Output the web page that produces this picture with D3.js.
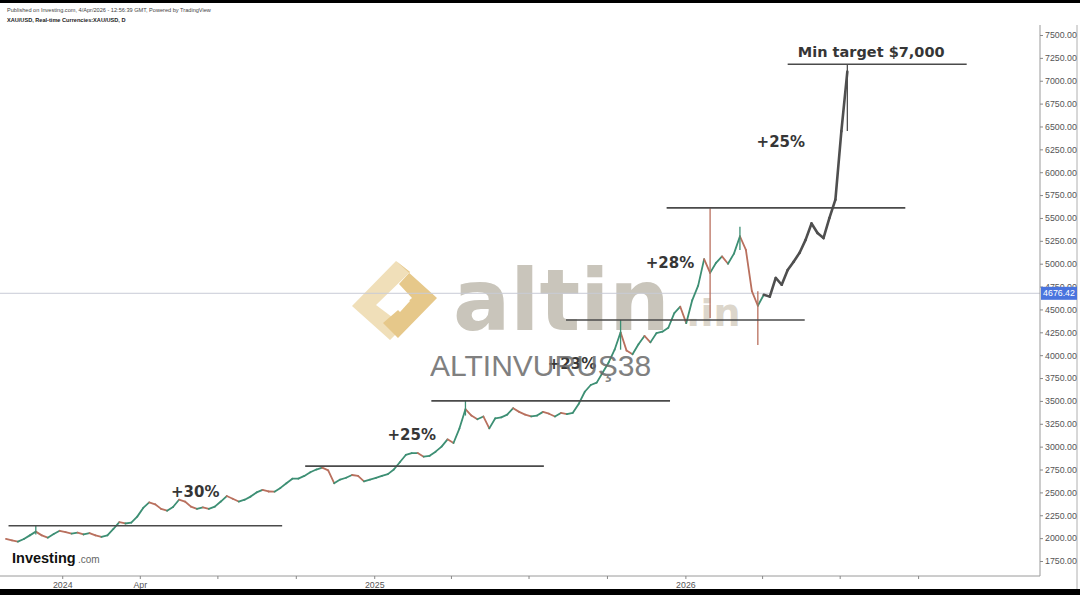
<!DOCTYPE html>
<meta charset="utf-8">
<style>
    body {
        margin: 0;
        background-color: #fff;
    }

    svg {
        display: block;
    }

    text {
        font-family: "Liberation Sans", Arial, sans-serif;
    }

    .axis text {
        fill: #555;
        font-size: 8.8px;
    }

    .axis line {
        stroke: #888;
    }

    .note {
        font-family: "DejaVu Sans", Verdana, sans-serif;
        font-weight: bold;
        fill: #363636;
        font-size: 15px;
        text-anchor: middle;
    }
</style>
<svg width="1080" height="595"></svg>
<script src="https://d3js.org/d3.v7.min.js"></script>
<script>
    // weekly closes, first week ending 27 Oct 2023
    var weekStart = "2023-10-27";
    var closes = [
        1991, 1975, 1962, 1990, 2030, 2071, 2030, 2005, 2045, 2080,
        2065, 2050, 2060, 2040, 2055, 2030, 2013, 2030, 2100, 2175,
        2160, 2170, 2235, 2330, 2390, 2370, 2320, 2300, 2340, 2420,
        2400, 2345, 2320, 2335, 2320, 2345, 2400, 2460, 2430, 2400,
        2420, 2454, 2500, 2527, 2510, 2508, 2549, 2600, 2650, 2650,
        2680, 2720, 2750, 2770, 2740, 2600, 2640, 2660, 2690, 2680,
        2620, 2640, 2658, 2680, 2700, 2750, 2830, 2909, 2930, 2930,
        2890, 2900, 2945, 3000, 3080, 3040, 3200, 3410, 3340, 3300,
        3330, 3200, 3310, 3320, 3350, 3420, 3380, 3350, 3330, 3340,
        3380, 3360, 3330, 3368, 3355, 3370, 3470, 3600, 3674, 3700,
        3810, 3920, 4060, 4250, 4050, 4010, 4120, 4210, 4140, 4240,
        4257, 4300, 4460, 4530, 4350, 4600, 4760, 5050, 4900, 5010,
        5080, 5000, 5110, 5300, 5150, 4700, 4540, 4660
    ];
    // hand drawn projection after the last close
    var projection = [
        4640, 4844, 4770, 4931, 5022, 5120, 5260, 5440, 5336, 5280,
        5500, 5700, 6450, 7100
    ];

    // long wicks (week index, low, high)
    var spikeWeek = [5, 77, 103, 118, 123, 126, 141];
    var spikeLow = [2040, 3340, 4060, 4407, 5150, 4112, 6450];
    var spikeHigh = [2135, 3500, 4385, 5606, 5404, 4700, 7180];

    var lastPrice = 4676.42;

    // horizontal levels drawn on the chart
    var levelValue = [2135, 2787, 3500, 4385, 5610, 7180];
    var levelFrom = ["2023-10-30", "2024-10-12", "2025-03-09", "2025-08-14", "2025-12-10", "2026-05-01"];
    var levelTo = ["2024-09-15", "2025-07-19", "2025-12-14", "2026-05-21", "2026-09-16", "2026-11-27"];

    var noteText = ["+30%", "+25%", "+23%", "+28%", "+25%", "Min target $7,000"];
    var noteDate = ["2024-06-05", "2025-02-14", "2025-08-21", "2025-12-14", "2026-04-23", "2026-08-07"];
    var noteValue = [2453, 3073, 3850, 4953, 6276, 7260];

    var yTicks = [1750, 2000, 2250, 2500, 2750, 3000, 3250, 3500, 3750, 4000, 4250, 4500,
        4750, 5000, 5250, 5500, 5750, 6000, 6250, 6500, 6750, 7000, 7250, 7500];
    var xTickDates = ["2024-01-01", "2024-04-01", "2024-07-01", "2024-10-01", "2025-01-01", "2025-04-01",
        "2025-07-01", "2025-10-01", "2026-01-01", "2026-04-01", "2026-07-01", "2026-10-01"];
    var xTickLabels = ["2024", "Apr", "", "", "2025", "", "", "", "2026", "", "", ""];

    var svg = d3.select("svg"),
        width = +svg.attr("width"),
        height = +svg.attr("height");

    var parse = d3.utcParse("%Y-%m-%d");
    var plotRight = 1040,
        plotTop = 25,
        plotBottom = 576;

    var x = d3.scaleUtc()
        .domain([parse("2023-10-20"), parse("2027-02-21")])
        .range([0, plotRight]);

    var y = d3.scaleLinear()
        .domain([1750, 7500])
        .range([561, 35]);

    var start = parse(weekStart);
    var points = closes.concat(projection).map(function(v, i) {
        return {
            date: d3.utcDay.offset(start, 7 * i),
            value: v,
            projected: i >= closes.length
        };
    });

    // watermark (under the price)
    var wm = svg.append("g").attr("class", "watermark");
    wm.append("polygon")
        .attr("points", "396,261 352,306 390,340 404,326 376,305 410,272")
        .attr("fill", "#f0dfb9");
    wm.append("polygon")
        .attr("points", "396,261 437,298 398,338 383,323 412,298 399,284 410,272")
        .attr("fill", "#e6c88a");
    wm.append("polygon")
        .attr("points", "399,290 410,301 400,312 389,301")
        .attr("fill", "#fff");
    wm.append("text")
        .attr("x", 453)
        .attr("y", 330)
        .style("font-family", "DejaVu Sans, sans-serif")
        .style("font-weight", "bold")
        .style("font-size", "85px")
        .attr("fill", "#c9c5bb")
        .text("altin");
    wm.append("text")
        .attr("x", 686)
        .attr("y", 326)
        .style("font-family", "DejaVu Sans, sans-serif")
        .style("font-weight", "bold")
        .style("font-size", "38px")
        .attr("fill", "#dcd6cb")
        .text(".in");

    // last price line
    svg.append("line")
        .attr("x1", 0)
        .attr("x2", plotRight)
        .attr("y1", y(lastPrice))
        .attr("y2", y(lastPrice))
        .attr("stroke", "#c9cbd6")
        .attr("stroke-width", 1);

    // frame
    svg.append("line")
        .attr("x1", 0).attr("x2", plotRight)
        .attr("y1", plotBottom).attr("y2", plotBottom)
        .attr("stroke", "#9a9a9a");
    svg.append("line")
        .attr("x1", plotRight).attr("x2", plotRight)
        .attr("y1", plotTop).attr("y2", plotBottom)
        .attr("stroke", "#9a9a9a");
    svg.append("line")
        .attr("x1", 1077).attr("x2", 1077)
        .attr("y1", plotTop).attr("y2", 590)
        .attr("stroke", "#b0b0b0");

    function segColor(a, b) {
        if (b.projected) return "#4f4f4f";
        return b.value >= a.value ? "#3d8f74" : "#b9705e";
    }

    var segs = d3.pairs(points);
    svg.append("g")
        .attr("class", "price")
        .selectAll("line")
        .data(segs)
        .enter().append("line")
        .attr("x1", function(d) { return x(d[0].date); })
        .attr("y1", function(d) { return y(d[0].value); })
        .attr("x2", function(d) { return x(d[1].date); })
        .attr("y2", function(d) { return y(d[1].value); })
        .attr("stroke", function(d) { return segColor(d[0], d[1]); })
        .attr("stroke-width", function(d) { return d[1].projected ? 2.6 : 1.8; })
        .attr("stroke-linecap", "round");

    svg.append("g")
        .attr("class", "wicks")
        .selectAll("line")
        .data(spikeWeek)
        .enter().append("line")
        .attr("x1", function(k) { return x(points[k].date); })
        .attr("x2", function(k) { return x(points[k].date); })
        .attr("y1", function(k, i) { return y(spikeLow[i]); })
        .attr("y2", function(k, i) { return y(spikeHigh[i]); })
        .attr("stroke", function(k) {
            if (points[k].projected) return "#4f4f4f";
            return segColor(points[k - 1], points[k]);
        })
        .attr("stroke-width", 1.3);

    // drawn levels
    svg.append("g")
        .attr("class", "levels")
        .selectAll("line")
        .data(levelValue)
        .enter().append("line")
        .attr("x1", function(d, i) { return x(parse(levelFrom[i])); })
        .attr("x2", function(d, i) { return x(parse(levelTo[i])); })
        .attr("y1", function(d) { return y(d); })
        .attr("y2", function(d) { return y(d); })
        .attr("stroke", "#4a4a4a")
        .attr("stroke-width", 1.6);

    svg.append("g")
        .selectAll("text")
        .data(noteText)
        .enter().append("text")
        .attr("class", "note")
        .attr("x", function(d, i) { return x(parse(noteDate[i])); })
        .attr("y", function(d, i) { return y(noteValue[i]); })
        .style("font-size", function(d) { return d.length > 6 ? "14.5px" : "15px"; })
        .text(function(d) { return d; });

    // second watermark line, above the chart
    svg.append("text")
        .attr("x", 430)
        .attr("y", 376)
        .style("font-size", "30px")
        .attr("fill", "#6a6a6a")
        .attr("opacity", 0.85)
        .text("ALTINVURUŞ38");

    // axes
    var yAxis = d3.axisRight(y)
        .tickValues(yTicks)
        .tickSize(3)
        .tickPadding(2)
        .tickFormat(d3.format(".2f"));
    svg.append("g")
        .attr("class", "axis")
        .attr("transform", "translate(" + plotRight + ",0)")
        .call(yAxis)
        .call(function(g) { g.select(".domain").remove(); });

    var xAxis = d3.axisBottom(x)
        .tickValues(xTickDates.map(parse))
        .tickSize(3)
        .tickPadding(3)
        .tickFormat(function(d, i) { return xTickLabels[i]; });
    svg.append("g")
        .attr("class", "axis")
        .attr("transform", "translate(0," + plotBottom + ")")
        .call(xAxis)
        .call(function(g) { g.select(".domain").remove(); });

    // last price tag
    svg.append("rect")
        .attr("x", plotRight + 1)
        .attr("y", y(lastPrice) - 6.5)
        .attr("width", 36)
        .attr("height", 13)
        .attr("fill", "#4a74de");
    svg.append("text")
        .attr("x", plotRight + 19)
        .attr("y", y(lastPrice) + 3)
        .attr("text-anchor", "middle")
        .attr("fill", "#fff")
        .style("font-size", "8.8px")
        .text(d3.format(".2f")(lastPrice));

    // header and branding
    svg.append("text")
        .attr("x", 7).attr("y", 12)
        .style("font-size", "5.6px")
        .attr("fill", "#444")
        .text("Published on Investing.com, 4/Apr/2026 - 12:56:39 GMT, Powered by TradingView");
    svg.append("text")
        .attr("x", 7).attr("y", 22)
        .style("font-size", "5.6px")
        .style("font-weight", "bold")
        .attr("fill", "#222")
        .text("XAU/USD, Real-time Currencies:XAU/USD, D");

    svg.append("text")
        .attr("x", 12).attr("y", 563)
        .style("font-size", "14.5px")
        .style("font-weight", "bold")
        .attr("fill", "#111")
        .text("Investing");
    svg.append("text")
        .attr("x", 78).attr("y", 563)
        .style("font-size", "10px")
        .attr("fill", "#666")
        .text(".com");

    svg.append("rect")
        .attr("x", 0).attr("y", 0)
        .attr("width", width).attr("height", 3)
        .attr("fill", "#000");
    svg.append("rect")
        .attr("x", 0).attr("y", 589)
        .attr("width", width).attr("height", height - 589)
        .attr("fill", "#000");
</script>
